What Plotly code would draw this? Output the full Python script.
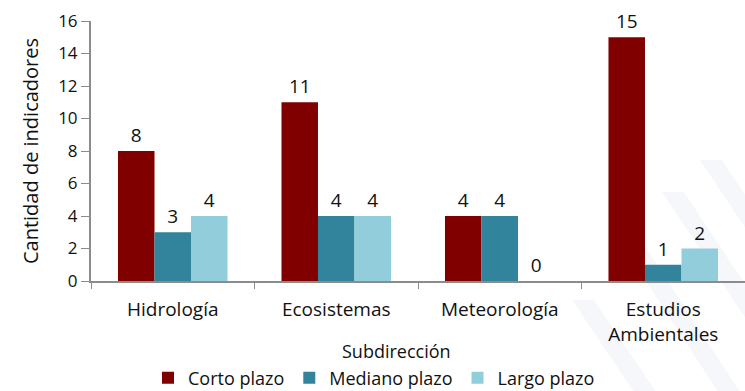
import plotly.graph_objects as go

# Indicadores por subdirección y horizonte de planificación
subdirecciones = ["Hidrología", "Ecosistemas", "Meteorología", "Estudios<br>Ambientales"]
corto_plazo = [8, 11, 4, 15]
mediano_plazo = [3, 4, 4, 1]
largo_plazo = [4, 4, 0, 2]
y_ticks = [0, 2, 4, 6, 8, 10, 12, 14, 16]

font_family = "Open Sans, Liberation Sans, sans-serif"
text_color = "#111111"
axis_color = "#8C8C8C"

W, H = 745, 391
M_L, M_R, M_T, M_B = 91, 0, 21, 110
PLOT_W = W - M_L - M_R
PLOT_H = H - M_T - M_B


def px_to_paper(px, py):
    """Convert page pixel coordinates to paper coordinates."""
    return (px - M_L) / PLOT_W, (H - M_B - py) / PLOT_H


series = [
    ("Corto plazo", corto_plazo, "#800000"),
    ("Mediano plazo", mediano_plazo, "#31849B"),
    ("Largo plazo", largo_plazo, "#92CDDC"),
]

fig = go.Figure()
for name, values, color in series:
    fig.add_trace(go.Bar(
        name=name,
        x=subdirecciones,
        y=values,
        marker=dict(color=color, line=dict(width=0)),
        text=[str(v) for v in values],
        textposition="outside",
        textfont=dict(size=19, color=text_color, family=font_family),
        cliponaxis=False,
    ))

# Faint diagonal stripes decorating the lower-right background
stripes = [
    ((700, 160), (760, 250)),
    ((662, 192), (760, 340)),
    ((618, 238), (720, 395)),
    ((572, 300), (636, 395)),
]
shapes = []
for (x0, y0), (x1, y1) in stripes:
    w = 22
    pts = [px_to_paper(x0, y0), px_to_paper(x0 + w, y0),
           px_to_paper(x1 + w, y1), px_to_paper(x1, y1)]
    path = "M " + " L ".join(f"{a:.4f},{b:.4f}" for a, b in pts) + " Z"
    shapes.append(dict(type="path", xref="paper", yref="paper", path=path,
                       fillcolor="rgba(210,220,230,0.22)", line=dict(width=0),
                       layer="below"))

sub_x, sub_y = px_to_paper(396, 351)

fig.update_layout(
    width=W,
    height=H,
    barmode="group",
    bargap=0.33,
    bargroupgap=0,
    paper_bgcolor="white",
    plot_bgcolor="rgba(0,0,0,0)",
    margin=dict(l=M_L, r=M_R, t=M_T, b=M_B, autoexpand=False),
    font=dict(family=font_family, color=text_color),
    shapes=shapes,
    showlegend=True,
    legend=dict(
        orientation="h",
        x=px_to_paper(374, 0)[0], xanchor="center",
        y=px_to_paper(0, 378)[1], yanchor="middle",
        font=dict(size=18, color=text_color),
        itemwidth=30,
        traceorder="normal",
        bgcolor="rgba(0,0,0,0)",
    ),
    annotations=[dict(
        text="Subdirección", xref="paper", yref="paper",
        x=sub_x, y=sub_y, xanchor="center", yanchor="middle",
        showarrow=False, font=dict(size=18, color=text_color),
    )],
    xaxis=dict(
        automargin=False,
        showline=True,
        linecolor=axis_color,
        linewidth=2,
        ticks="outside",
        tickson="boundaries",
        ticklen=6,
        tickcolor=axis_color,
        ticklabelstandoff=10,
        tickfont=dict(size=19, color=text_color),
    ),
    yaxis=dict(
        automargin=False,
        range=[0, 16],
        tickvals=y_ticks,
        showline=True,
        linecolor=axis_color,
        linewidth=2,
        ticks="outside",
        ticklen=8,
        tickcolor=axis_color,
        showgrid=False,
        zeroline=False,
        tickfont=dict(size=17, color=text_color),
        title=dict(text="Cantidad de indicadores", font=dict(size=20, color=text_color), standoff=14),
    ),
)

fig.write_html("out.html")
